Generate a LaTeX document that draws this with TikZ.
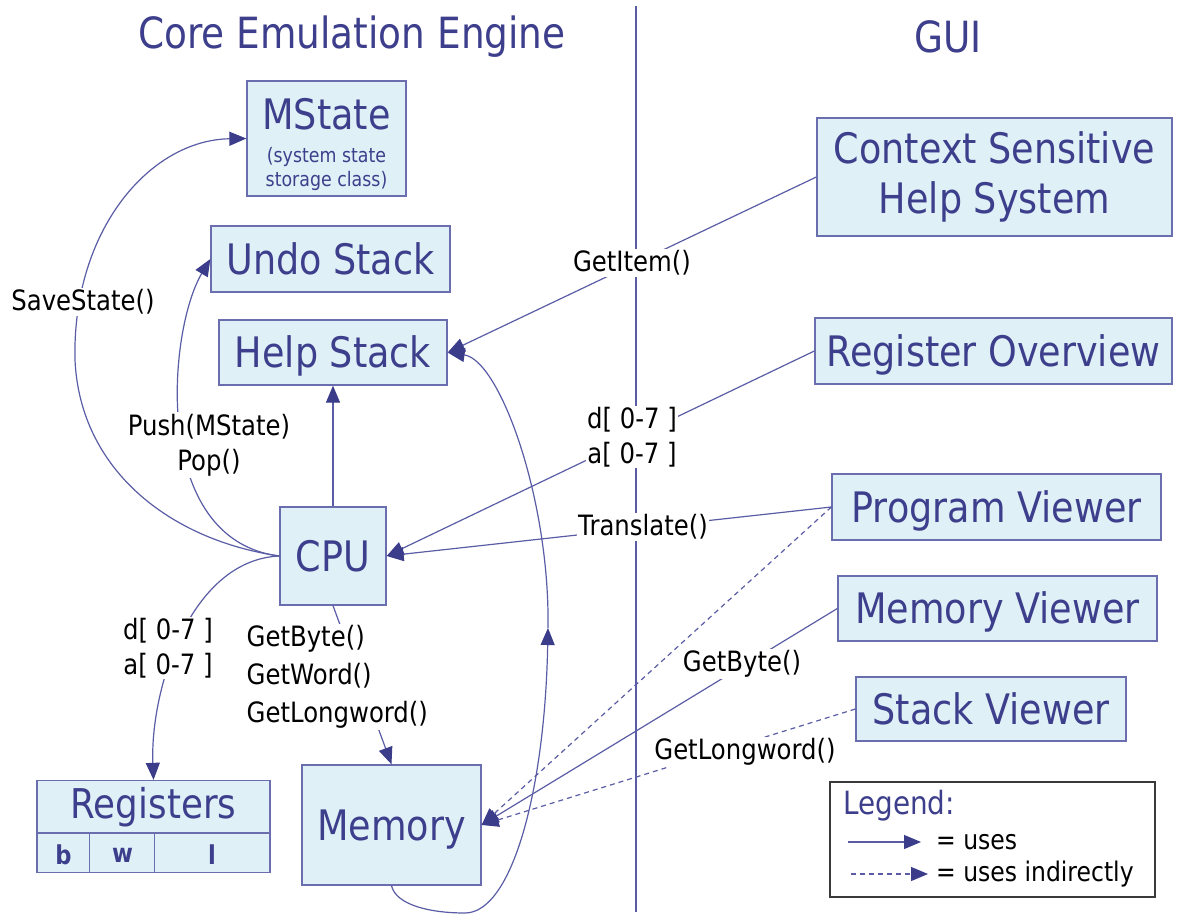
\documentclass[tikz,border=0pt]{standalone}
\usepackage{fontspec}
\setmainfont{DejaVu Sans}[FakeStretch=0.87]
\usetikzlibrary{arrows.meta,calc}
\definecolor{boxfill}{HTML}{DFF1F7}
\definecolor{boxline}{HTML}{6A6DAE}
\definecolor{inkblue}{HTML}{3D3F8C}
\definecolor{wire}{HTML}{5A5DA5}
\definecolor{tipblue}{HTML}{3B3D8A}
\definecolor{legline}{HTML}{3A3A3A}

\begin{document}
\begin{tikzpicture}[x=1pt,y=-1pt,
	boite/.style={draw=boxline,line width=1.3pt,fill=boxfill,text=inkblue,inner sep=0pt,
		font=\fontsize{42}{50}\selectfont,text height=30pt,text depth=0pt},
	boitemulti/.style={draw=boxline,line width=1.3pt,fill=boxfill,text=inkblue,inner sep=0pt,
		font=\fontsize{42}{50}\selectfont,align=center},
	texte/.style={text=inkblue,inner sep=0pt},
	lien/.style={draw=wire,line width=1.2pt,-{Triangle[length=17pt,width=14pt,color=tipblue]}},
	lienind/.style={lien,dash pattern=on 5pt off 4pt},
	etiq/.style={font=\fontsize{28}{35}\selectfont,fill=white,inner sep=1.5pt,align=center,text=black},
	titre/.style={font=\fontsize{43}{50}\selectfont,text=inkblue}]
		\pgfmathsetmacro{\sepx}{636}
		\useasboundingbox (0,0) rectangle (1179,915);
		\fill[white] (0,0) rectangle (1179,915);
		% titres et ligne de separation
		\node[titre] (tCore) at (352,37) {Core Emulation Engine};
		\node[titre] (tGUI) at (948,37) {GUI};
		\coordinate (sepTop) at (\sepx,6);
		\coordinate (sepBot) at (\sepx,912);
		\draw[wire,line width=1.2pt] (sepTop) -- (sepBot);
		% boites du moteur
		\node[boite,minimum width=159,minimum height=115] (MState) at (326.5,138.5) {};
		\node[texte,font=\fontsize{42}{50}\selectfont] (tMState) at (326.5,114) {MState};
		\node[texte,font=\fontsize{20}{24}\selectfont,align=center] (tMStateSub) at (326.5,169) {(system state\\storage class)};
		\node[boite,minimum width=239,minimum height=66] (Undo) at (330.5,259) {Undo Stack};
		\node[boite,minimum width=228,minimum height=65] (HelpStk) at (333,352.5) {Help Stack};
		\node[boite,minimum width=106,minimum height=98] (CPU) at (333,556) {CPU};
		\node[boite,minimum width=179,minimum height=120] (Mem) at (391.5,825) {Memory};
		\node[boite,minimum width=233,minimum height=92] (Regs) at (153.5,826.5) {};
		\draw[boxline,line width=1.3pt] ($(Regs.north west)+(0,53)$) -- ($(Regs.north east)+(0,53)$);
		\draw[boxline,line width=1.3pt] ($(Regs.north west)+(53,53)$) -- ($(Regs.south west)+(53,0)$);
		\draw[boxline,line width=1.3pt] ($(Regs.north west)+(118,53)$) -- ($(Regs.south west)+(118,0)$);
		\node[texte,font=\fontsize{41}{46}\selectfont] (tRegs) at (153.5,807) {Registers};
		\node[texte,font=\fontsize{26}{30}\selectfont\bfseries] (tRb) at (63.5,855) {b};
		\node[texte,font=\fontsize{26}{30}\selectfont\bfseries] (tRw) at (122.5,855) {w};
		\node[texte,font=\fontsize{26}{30}\selectfont\bfseries] (tRl) at (212,855) {l};
		% boites de l'interface
		\node[boitemulti,minimum width=355,minimum height=118] (CSH) at (994.5,177) {Context Sensitive\\Help System};
		\node[boite,minimum width=357,minimum height=66] (RegOv) at (993.5,351) {Register Overview};
		\node[boite,minimum width=329,minimum height=66] (ProgV) at (996.5,507) {Program Viewer};
		\node[boite,minimum width=319,minimum height=65] (MemV) at (997.5,608.5) {Memory Viewer};
		\node[boite,minimum width=270,minimum height=64] (StackV) at (991,709) {Stack Viewer};
		% liens internes
		\coordinate (viaSave) at (75,360);
		\draw[lien] (CPU.west) .. controls (170,540) and (80,470) .. (viaSave) .. controls (72,230) and (150,140) .. (MState.west);
		\draw[lien] (CPU.west) .. controls (150,540) and (168,330) .. (Undo.west);
		\draw[lien] (CPU.north) -- (HelpStk.south);
		\draw[lien] (CPU.west) .. controls (190,560) and (150,690) .. (Regs.north);
		\draw[lien] (CPU.south) -- (Mem.north);
		\coordinate (bas) at (465,913);
		\coordinate (midM) at (548,628);
		\draw[lien] (Mem.south) .. controls (396,905) and (430,913) .. (bas) .. controls (512,913) and (545,790) .. (midM);
		\draw[lien] (midM) .. controls (550,500) and (500,360) .. (HelpStk.east);
		% liens depuis l'interface
		\draw[lien] (CSH.west) -- (HelpStk.east);
		\draw[lien] (RegOv.west) -- (CPU.east);
		\draw[lien] (ProgV.west) -- (CPU.east);
		\draw[lienind] (ProgV.west) -- (Mem.east);
		\draw[lien] (MemV.west) -- (Mem.east);
		\draw[lienind] (StackV.west) -- (Mem.east);
		% etiquettes
		\node[etiq] (lSave) at (83,302) {SaveState()};
		\node[etiq] (lPush) at (209,445) {Push(MState)\\Pop()};
		\node[etiq] (lRegs) at (168,648) {d[ 0-7 ]\\a[ 0-7 ]};
		\node[etiq,font=\fontsize{28}{38}\selectfont,align=left,anchor=west] (lGet) at (245,677) {GetByte()\\GetWord()\\GetLongword()};
		\node[etiq] (lItem) at (632,263) {GetItem()};
		\node[etiq] (lRegOv) at (632,437) {d[ 0-7 ]\\a[ 0-7 ]};
		\node[etiq] (lTrans) at (643,527) {Translate()};
		\node[etiq] (lByte) at (742,664) {GetByte()};
		\node[etiq] (lLong) at (745,752) {GetLongword()};
		% legende
		\node[draw=legline,line width=1.5pt,fill=white,minimum width=325,minimum height=115] (Legend) at (992.5,839.5) {};
		\node[texte,font=\fontsize{32}{36}\selectfont,anchor=west] (tLeg) at (843,806) {Legend:};
		\coordinate (lg1a) at (848,842);
		\coordinate (lg1b) at (921,842);
		\coordinate (lg2a) at (851,874);
		\coordinate (lg2b) at (928,874);
		\draw[lien] (lg1a) -- (lg1b);
		\draw[lienind] (lg2a) -- (lg2b);
		\node[anchor=west,inner sep=0pt,font=\fontsize{27}{32}\selectfont] (tUses) at (936,842) {= uses};
		\node[anchor=west,inner sep=0pt,font=\fontsize{27}{32}\selectfont] (tUsesInd) at (936,874) {= uses indirectly};
\end{tikzpicture}
\end{document}
